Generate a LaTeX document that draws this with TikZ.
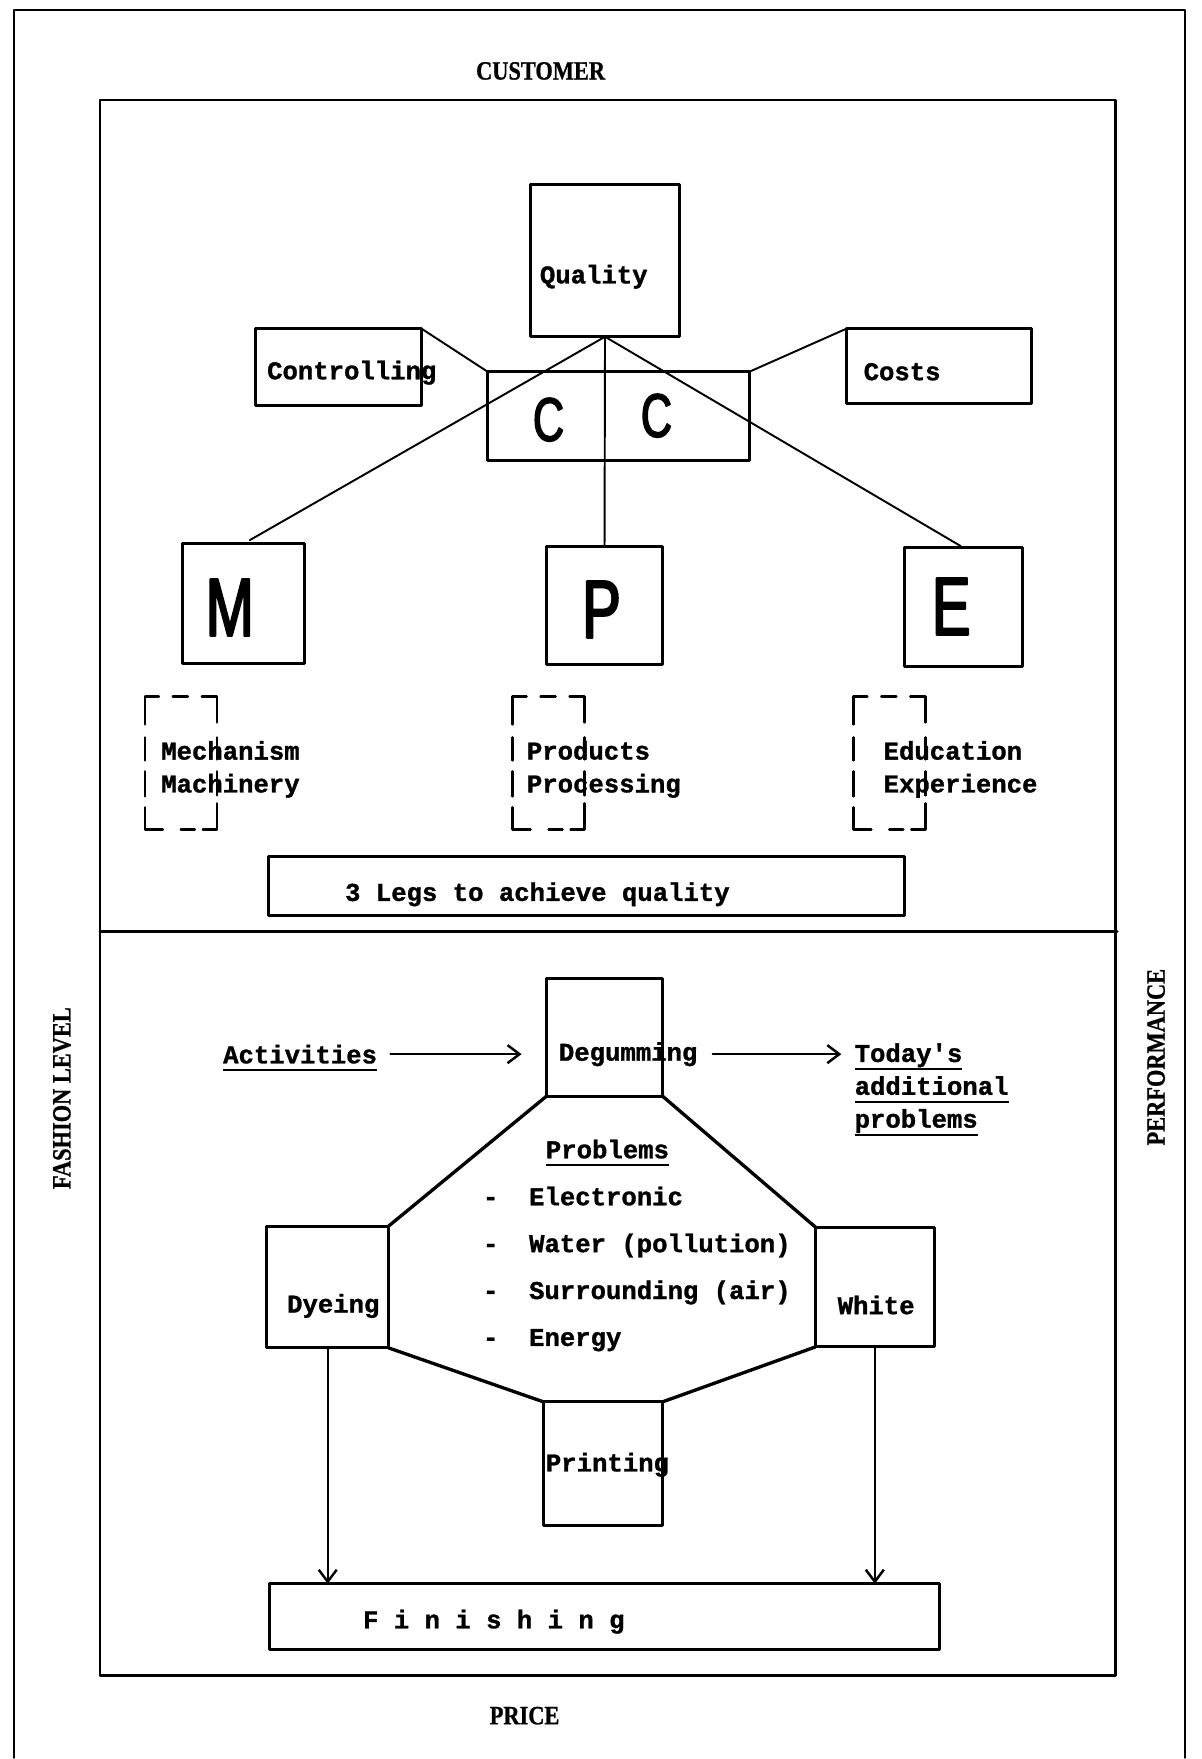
\documentclass[tikz,border=0pt]{standalone}
\usepackage{fontspec}
\setmonofont{Liberation Mono}[BoldFeatures={FakeBold=1.2}]
\newfontfamily\capfont{Liberation Serif}[FakeStretch=0.85,BoldFont={Liberation Serif Bold},BoldFeatures={FakeBold=0.8}]
\newfontfamily\bigfont{Liberation Sans}[FakeStretch=0.7,FakeBold=2.5]
\usetikzlibrary{arrows.meta}
% thick typewriter underline that does not change the node size
\newcommand\undl[1]{\setbox0\hbox{#1}\rlap{\smash{\rule[-4.6pt]{\wd0}{1.2pt}}}\box0}

\begin{document}
\begin{tikzpicture}[x=0.2mm,y=-0.2mm,line cap=round,line join=round,
  frame/.style={line width=1.6pt},
  box/.style={draw,line width=1.7pt,inner sep=0pt,outer sep=0pt},
  link/.style={line width=1.1pt},
  oct/.style={line width=1.9pt},
  arr/.style={line width=1.1pt,-{Straight Barb[length=2.4mm,width=3.6mm,line width=1.4pt]}},
  bracket/.style={line width=1.4pt},
  tw/.style={font=\ttfamily\bfseries\fontsize{14.6}{18.7}\selectfont,inner sep=0pt,anchor=west},
  sidelbl/.style={font=\capfont\bfseries\fontsize{15}{18}\selectfont,inner sep=0pt},
  big/.style={font=\bigfont\fontsize{47}{50}\selectfont,inner sep=0pt}]
  \path[fill=white] (0,0) rectangle (1202,1759);

  % frames
  \draw[frame] (14,1759) -- (14,10) -- (1186,10) -- (1186,1759);
  \draw[frame] (100,100) rectangle (1116,1677);
  \draw[frame] (100,932) -- (1118,932);
  \node[sidelbl] (cust) at (541,71) {CUSTOMER};
  \node[sidelbl] (price) at (525,1717) {PRICE};
  \node[sidelbl,rotate=90] (fash) at (62,1099) {FASHION LEVEL};
  \node[sidelbl,rotate=90] (perf) at (1157,1058) {PERFORMANCE};

  % upper part: quality and its three legs
  \node[box,minimum width=29.8mm,minimum height=30.4mm] (qual) at (605.5,261) {};
  \node[box,minimum width=33.2mm,minimum height=15.4mm] (ctrl) at (339,367.5) {};
  \node[box,minimum width=37mm,minimum height=15mm] (cost) at (939.5,366.5) {};
  \node[box,minimum width=52.4mm,minimum height=17.8mm] (cc) at (619,416.5) {};
  \node[box,minimum width=24.4mm,minimum height=24mm] (mbox) at (244,604) {};
  \node[box,minimum width=23.2mm,minimum height=23.6mm] (pbox) at (605,606) {};
  \node[box,minimum width=23.6mm,minimum height=23.8mm] (ebox) at (964,607.5) {};
  \node[box,minimum width=127.2mm,minimum height=11.8mm] (legs) at (587,886.5) {};

  \node[tw] (qualt) at (540,277) {Quality};
  \node[tw] (ctrlt) at (267,373) {Controlling};
  \node[tw] (costt) at (864,372) {Costs};
  \node[big,font=\bigfont\fontsize{35}{38}\selectfont] (c1) at (549,420) {C};
  \node[big,font=\bigfont\fontsize{35}{38}\selectfont] (c2) at (657,416) {C};
  \node[big] (mlet) at (230,608) {M};
  \node[big] (plet) at (602,610) {P};
  \node[big] (elet) at (952,607) {E};

  \draw[link] (ctrl.north east) -- (cc.north west);
  \draw[link] (cost.north west) -- (cc.north east);
  \draw[link] (qual.south) -- (pbox.north);
  \draw[link,shorten >=1.4mm] (qual.south) -- (mbox.north);
  \draw[link,shorten >=0.6mm] (qual.south) -- (ebox.north);

  \foreach \bx in {145,513,854}{
    \draw[bracket] (\bx,725) -- (\bx,697) -- ++(14,0)
      (\bx+28,697) -- ++(15,0)
      (\bx+57,697) -- ++(15,0) -- ++(0,26)
      (\bx,738) -- ++(0,23) (\bx,772) -- ++(0,25)
      (\bx+72,738) -- ++(0,22) (\bx+72,772) -- ++(0,24)
      (\bx,808) -- (\bx,830) -- ++(18,0)
      (\bx+36,830) -- ++(14,0)
      (\bx+58,830) -- ++(14,0) -- ++(0,-26);
  }
  \node[tw,align=left] (mt) at (161,770) {Mechanism\\Machinery};
  \node[tw,align=left] (pt) at (527,770) {Products\\Processing};
  \node[tw,align=left] (et) at (884,770) {Education\\Experience};
  \node[tw] (legst) at (345,895) {3 Legs to achieve quality};

  % lower part: the finishing activities
  \node[box,minimum width=23.2mm,minimum height=23.6mm] (degum) at (605,1038) {};
  \node[box,minimum width=24.4mm,minimum height=24.4mm] (dye) at (328,1288) {};
  \node[box,minimum width=23.8mm,minimum height=24mm] (white) at (875.5,1288) {};
  \node[box,minimum width=23.8mm,minimum height=24.8mm] (print) at (603.5,1465) {};
  \node[box,minimum width=134mm,minimum height=13.2mm] (fin) at (605,1618) {};

  \node[tw] (act) at (223,1055) {\undl{Activities}};
  \node[tw] (degt) at (559,1055) {Degumming};
  \node[tw,align=left] (tod) at (855,1089) {\undl{Today's}\\\undl{additional}\\\undl{problems}};
  \node[tw] (probh) at (546,1150) {\undl{Problems}};
  \node[tw,align=left,font=\ttfamily\bfseries\fontsize{14.6}{26.7}\selectfont] (probl) at (483,1270)
    {-\ \ Electronic\\-\ \ Water (pollution)\\-\ \ Surrounding (air)\\-\ \ Energy};
  \node[tw] (dyet) at (287,1307) {Dyeing};
  \node[tw] (whitet) at (838,1306) {White};
  \node[tw] (printt) at (546,1466) {Printing};
  \node[tw] (fint) at (363,1623) {F i n i s h i n g};

  \draw[arr,shorten <=2.6mm,shorten >=5mm] (act.east) -- (act.east -| degum.west);
  \draw[arr,shorten <=3mm,shorten >=2.6mm] (degt.east) -- (degt.east -| tod.west);
  \draw[oct] (degum.south west) -- (dye.north east);
  \draw[oct] (degum.south east) -- (white.north west);
  \draw[oct] (dye.south east) -- (print.north west);
  \draw[oct] (white.south west) -- (print.north east);
  \draw[arr] (dye.south) -- (dye.south |- fin.north);
  \draw[arr] (white.south) -- (white.south |- fin.north);
\end{tikzpicture}
\end{document}
